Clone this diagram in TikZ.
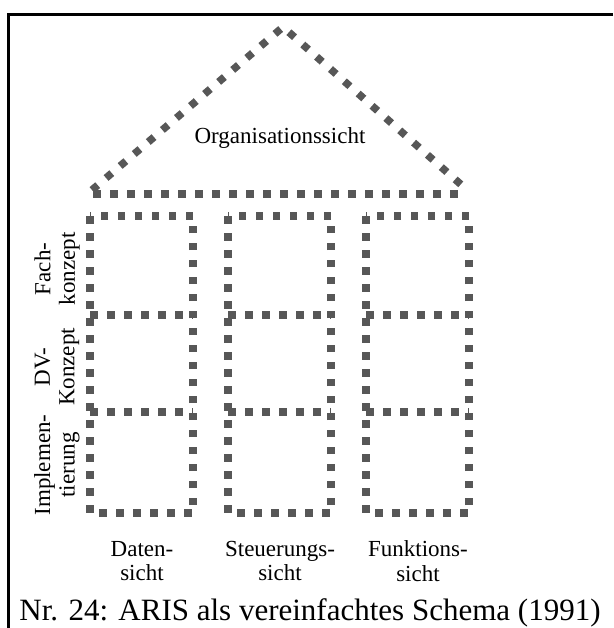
\documentclass[tikz,border=0pt]{standalone}
\usepackage{fontspec}
\setmainfont{Liberation Serif}
\definecolor{dotgray}{HTML}{575757}
\begin{document}
\begin{tikzpicture}[x=1pt,y=-1pt,
  dots/.style={draw=dotgray, line width=7.5pt, dash pattern=on 7.5pt off 9.5pt},
  roofdots/.style={draw=dotgray, line width=7.5pt, dash pattern=on 7.5pt off 11pt},
  frame/.style={draw=black, line width=2.8pt},
  lbl/.style={font=\fontsize{23}{24.5}\selectfont, align=center, inner sep=0pt},
  caption/.style={font=\fontsize{31}{36}\selectfont, inner sep=0pt}]
\useasboundingbox (0,0) rectangle (613,628);
\fill[white] (0,0) rectangle (613,628);

% outer frame (top and left edges)
\coordinate (ftr) at (613,14.5);
\coordinate (ftl) at (8.5,14.5);
\coordinate (fbl) at (8.5,628);
\draw[frame] (ftr) -- (ftl) -- (fbl);

% roof
\coordinate (roofL) at (92,190);
\coordinate (apex) at (283,27);
\coordinate (roofR) at (466,189);
\draw[roofdots] (roofL) -- (apex) -- (roofR);
\coordinate (baseL) at (93,194);
\coordinate (baseR) at (466,194);
\draw[dots] (baseL) -- (baseR);
\node[lbl] (org) at (280,138) {Organisationssicht};

% three columns, each split into three levels
\foreach \x/\n in {90/daten,228/steuer,366/funkt}{
  \coordinate (\n-tl) at (\x,216);
  \coordinate (\n-br) at (\x+103,513);
  \draw[dots] (\n-tl) rectangle (\n-br);
  \draw[dots] (\x,315) -- (\x+103,315);
  \draw[dots] (\x,412) -- (\x+103,412);
}

% view labels below the columns
\node[lbl] (datensicht) at (142,561) {Daten-\\sicht};
\node[lbl] (steuersicht) at (280,561) {Steuerungs-\\sicht};
\node[lbl] (funktsicht) at (418,561) {Funktions-\\sicht};

% level labels, rotated
\node[lbl, rotate=90] (fach) at (57,269) {Fach-\\konzept};
\node[lbl, rotate=90] (dv) at (57,367) {DV-\\Konzept};
\node[lbl, rotate=90] (impl) at (57,465) {Implemen-\\tierung};

% caption
\node[caption, anchor=base] (cap) at (310,620) {Nr. 24: ARIS als vereinfachtes Schema (1991)};
\end{tikzpicture}
\end{document}
